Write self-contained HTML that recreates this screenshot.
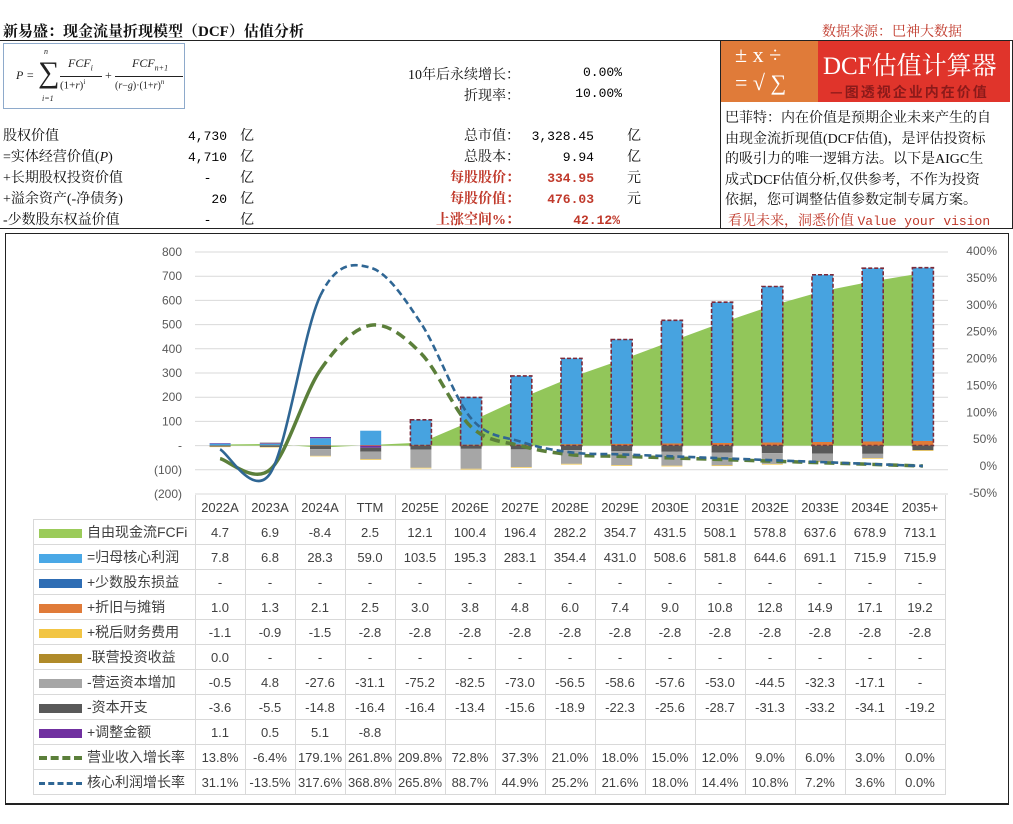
<!DOCTYPE html>
<html><head><meta charset="utf-8">
<style>
body{margin:0;width:1013px;height:824px;background:#fff;position:relative;overflow:hidden;font-family:"Liberation Sans","Noto Sans CJK SC",sans-serif;}
.a{position:absolute;white-space:nowrap;}
.cj{font-family:"Liberation Serif","Noto Serif CJK SC",serif;font-size:14px;color:#111;}
.m{font-family:"Liberation Mono","Noto Serif CJK SC",monospace;font-size:13px;}
.r{text-align:right;}
.red{color:#c0392b;font-weight:bold;}
table{border-collapse:collapse;}
td{border:1px solid #d9d9d9;height:24px;padding:0;font-size:13px;color:#404040;text-align:center;}
</style></head><body>
<div class="a cj" style="left:3px;top:20px;font-weight:bold;font-size:15px;">新易盛：现金流量折现模型（DCF）估值分析</div>
<div class="a cj" style="left:822px;top:21px;color:#c0392b;">数据来源：巴神大数据</div>
<div class="a" style="left:0;top:40px;width:1013px;height:1px;background:#222;"></div>
<div class="a" style="left:0;top:228px;width:1013px;height:1px;background:#222;"></div>
<div class="a" style="left:3px;top:43px;width:180px;height:64px;border:1px solid #8eaacb;font-family:'Liberation Serif',serif;font-style:italic;font-size:12px;color:#222;">
<span class="a" style="left:12px;top:24px;">P =</span>
<span class="a" style="left:34px;top:12px;font-size:30px;font-style:normal;">∑</span>
<span class="a" style="left:40px;top:3px;font-size:8px;">n</span><span class="a" style="left:38px;top:50px;font-size:8px;">i=1</span>
<span class="a" style="left:64px;top:12px;">FCF<sub style="font-size:8px">i</sub></span>
<span class="a" style="left:56px;top:32px;width:42px;border-top:1px solid #222;padding-top:1px;font-style:normal;font-size:11px;">(1+<i>r</i>)<sup style="font-size:7px">i</sup></span>
<span class="a" style="left:101px;top:24px;font-style:normal;">+</span>
<span class="a" style="left:128px;top:12px;">FCF<sub style="font-size:8px">n+1</sub></span>
<span class="a" style="left:111px;top:32px;width:68px;border-top:1px solid #222;padding-top:1px;font-style:normal;font-size:10px;">(<i>r</i>−<i>g</i>)·(1+<i>r</i>)<sup style="font-size:7px"><i>n</i></sup></span>
</div>
<div class="a cj r" style="left:380px;top:64px;width:140px;">10年后永续增长：</div>
<div class="a m r" style="left:540px;top:65px;width:82px;">0.00%</div>
<div class="a cj r" style="left:380px;top:85px;width:140px;">折现率：</div>
<div class="a m r" style="left:540px;top:86px;width:82px;">10.00%</div>

<div class="a cj" style="left:3px;top:126px;line-height:21px;">股权价值<br>=实体经营价值(<i>P</i>)<br>+长期股权投资价值<br>+溢余资产(-净债务)<br>-少数股东权益价值</div>
<div class="a m r" style="left:150px;top:126px;width:77px;line-height:21px;">4,730<br>4,710<br>-&nbsp;&nbsp;<br>20<br>-&nbsp;&nbsp;</div>
<div class="a cj" style="left:240px;top:126px;line-height:21px;">亿<br>亿<br>亿<br>亿<br>亿</div>
<div class="a cj r" style="left:380px;top:126px;width:140px;line-height:21px;">总市值：<br>总股本：<br><span class="red">每股股价：</span><br><span class="red">每股价值：</span><br><span class="red">上涨空间%：</span></div>
<div class="a m r" style="left:520px;top:126px;width:74px;line-height:21px;">3,328.45<br>9.94<br><span class="red">334.95</span><br><span class="red">476.03</span><br><span class="red" style="margin-right:-26px">42.12%</span></div>
<div class="a cj" style="left:627px;top:126px;line-height:21px;">亿<br>亿<br>元<br>元</div>

<div class="a" style="left:720px;top:40px;width:291px;height:188px;border:1px solid #222;border-top:none;"></div>
<div class="a" style="left:721px;top:41px;width:97px;height:61px;background:#e07b39;color:#fff;font-family:'Liberation Serif',serif;font-size:22px;line-height:28px;padding-left:14px;box-sizing:border-box;">± x ÷<br>= √ ∑</div>
<div class="a" style="left:818px;top:41px;width:192px;height:61px;background:#e0342b;"></div>
<div class="a" style="left:823px;top:46px;color:#fff;font-size:25px;font-family:'Liberation Serif','Noto Serif CJK SC',serif;">DCF估值计算器</div>
<div class="a" style="left:830px;top:82px;color:#8b1a1a;font-size:14px;font-weight:bold;letter-spacing:2px;font-family:'Noto Sans CJK SC',sans-serif;">—图透视企业内在价值</div>
<div class="a cj" style="left:725px;top:109px;line-height:20.5px;font-size:14px;">巴菲特：内在价值是预期企业未来产生的自<br>由现金流折现值(DCF估值)，是评估投资标<br>的吸引力的唯一逻辑方法。以下是AIGC生<br>成式DCF估值分析,仅供参考，不作为投资<br>依据，您可调整估值参数定制专属方案。</div>
<div class="a cj" style="left:728px;top:210px;color:#c0392b;font-size:14px;">看见未来，洞悉价值 <span style="font-family:'Liberation Mono',monospace;font-size:13px;">Value your vision</span></div>

<div class="a" style="left:5px;top:233px;width:1002px;height:569px;border:1px solid #222;border-bottom:2px solid #222;"></div>
<svg class="a" id="chart" style="left:0;top:0" width="1013" height="824"></svg>
<table class="a" id="tbl" style="left:33px;top:495px;"></table>

<script>
const categories=["2022A","2023A","2024A","TTM","2025E","2026E","2027E","2028E","2029E","2030E","2031E","2032E","2033E","2034E","2035+"];
const fcf=[4.7,6.9,-8.4,2.5,12.1,100.4,196.4,282.2,354.7,431.5,508.1,578.8,637.6,678.9,713.1];
const coreProfit=[7.8,6.8,28.3,59.0,103.5,195.3,283.1,354.4,431.0,508.6,581.8,644.6,691.1,715.9,715.9];
const minority=[null,null,null,null,null,null,null,null,null,null,null,null,null,null,null];
const dep=[1.0,1.3,2.1,2.5,3.0,3.8,4.8,6.0,7.4,9.0,10.8,12.8,14.9,17.1,19.2];
const finExp=[-1.1,-0.9,-1.5,-2.8,-2.8,-2.8,-2.8,-2.8,-2.8,-2.8,-2.8,-2.8,-2.8,-2.8,-2.8];
const invInc=[0.0,null,null,null,null,null,null,null,null,null,null,null,null,null,null];
const wc=[-0.5,4.8,-27.6,-31.1,-75.2,-82.5,-73.0,-56.5,-58.6,-57.6,-53.0,-44.5,-32.3,-17.1,null];
const capex=[-3.6,-5.5,-14.8,-16.4,-16.4,-13.4,-15.6,-18.9,-22.3,-25.6,-28.7,-31.3,-33.2,-34.1,-19.2];
const adj=[1.1,0.5,5.1,-8.8,null,null,null,null,null,null,null,null,null,null,null];
const revGrowth=[13.8,-6.4,179.1,261.8,209.8,72.8,37.3,21.0,18.0,15.0,12.0,9.0,6.0,3.0,0.0];
const profitGrowth=[31.1,-13.5,317.6,368.8,265.8,88.7,44.9,25.2,21.6,18.0,14.4,10.8,7.2,3.6,0.0];
const leftTicks=[800,700,600,500,400,300,200,100,0,-100,-200];
const rightTicks=[400,350,300,250,200,150,100,50,0,-50];

const X0=195,CW=50.2,NS="http://www.w3.org/2000/svg";
const cx=i=>X0+CW*(i+0.5);
const yL=v=>445.6-v*0.242;
const yR=v=>466-v*0.5375;
const svg=document.getElementById('chart');
function mk(t,a,p){const e=document.createElementNS(NS,t);for(const k in a)e.setAttribute(k,a[k]);(p||svg).appendChild(e);return e;}

leftTicks.forEach(v=>{
 const g=mk('line',{x1:X0,x2:948,y1:yL(v),y2:yL(v),stroke:'#d9d9d9','stroke-width':1});
 
 
 const t=mk('text',{x:182,y:yL(v)+4,'text-anchor':'end','font-size':12,fill:'#595959','font-family':'Liberation Sans,sans-serif'});
 t.textContent=v===0?'-':(v<0?'('+(-v)+')':String(v));
 
 
});
rightTicks.forEach(v=>{
 const t=mk('text',{x:997,y:yR(v)+4,'text-anchor':'end','font-size':12,fill:'#595959','font-family':'Liberation Sans,sans-serif'});
 t.textContent=v+'%';
 
 
});

let d='M'+cx(0)+','+yL(0);
fcf.forEach((v,i)=>{d+=' L'+cx(i)+','+yL(v);});
d+=' L'+cx(fcf.length-1)+','+yL(0)+' Z';
const area=mk('path',{d:d,fill:'#92c65a'});



const BW=21;
categories.forEach((c,i)=>{
 let pos=0,neg=0;
 const stack=[[dep,'#e07b39','bar-depreciation'],[coreProfit,'#47a3e0','bar-core-profit'],[minority,'#2e6db4','bar-minority'],[adj,'#7030a0','bar-adjustment'],[capex,'#595959','bar-capex'],[wc,'#a6a6a6','bar-working-capital'],[invInc,'#b08b2a','bar-investment-income'],[finExp,'#f2c544','bar-finance-expense']];
 stack.forEach(([arr,col,name])=>{
  const v=arr[i]; if(v==null||v===0) return;
  let y1,y2;
  if(v>0){y1=yL(pos+v);y2=yL(pos);pos+=v;}else{y1=yL(neg);y2=yL(neg+v);neg+=v;}
  const r=mk('rect',{x:cx(i)-BW/2,y:y1,width:BW,height:Math.max(0.5,y2-y1),fill:col});
  
  
  if(name==='bar-core-profit'&&i>=4){
   const b=mk('rect',{x:cx(i)-BW/2,y:yL(pos),width:BW,height:yL(0)-yL(pos),fill:'none',stroke:'#7b2a3a','stroke-width':1.6,'stroke-dasharray':'4 2'});
   
   
  }
 });
});

function seg(pts,i){
 const p0=pts[Math.max(0,i-1)],p1=pts[i],p2=pts[i+1],p3=pts[Math.min(pts.length-1,i+2)];
 const c1=[p1[0]+(p2[0]-p0[0])/6,p1[1]+(p2[1]-p0[1])/6],c2=[p2[0]-(p3[0]-p1[0])/6,p2[1]-(p3[1]-p1[1])/6];
 return ' C'+c1[0]+','+c1[1]+' '+c2[0]+','+c2[1]+' '+p2[0]+','+p2[1];
}
function line(vals,col,w,dash,name){
 const pts=vals.map((v,i)=>[cx(i),yR(v)]);
 let s='M'+pts[0][0]+','+pts[0][1];for(let i=0;i<2;i++)s+=seg(pts,i);
 let ds='M'+pts[2][0]+','+pts[2][1];for(let i=2;i<pts.length-1;i++)ds+=seg(pts,i);
 const a=mk('path',{d:s,fill:'none',stroke:col,'stroke-width':w});
 
 
 const b=mk('path',{d:ds,fill:'none',stroke:col,'stroke-width':w,'stroke-dasharray':dash});
 
 
}
line(revGrowth,'#5b7f3a',3.5,'10 6','revenue-growth-line');
line(profitGrowth,'#2f6694',2.6,'7 4','profit-growth-line');

const tbl=document.getElementById('tbl');
const rows=[
 ['自由现金流FCFi','#9bcb5a','bar',fcf,1],
 ['=归母核心利润','#4aa8e6','bar',coreProfit,1],
 ['+少数股东损益','#2e6db4','bar',minority,1],
 ['+折旧与摊销','#e07b39','bar',dep,1],
 ['+税后财务费用','#f2c544','bar',finExp,1],
 ['-联营投资收益','#b08b2a','bar',invInc,1],
 ['-营运资本增加','#a6a6a6','bar',wc,1],
 ['-资本开支','#595959','bar',capex,1],
 ['+调整金额','#7030a0','bar',adj,1],
 ['营业收入增长率','#5b7f3a','dash',revGrowth,2],
 ['核心利润增长率','#2f6694','dash2',profitGrowth,2]];
let h='<tr style="height:23px"><td style="border:none;border-bottom:1px solid #d9d9d9;width:161px"></td>';
categories.forEach(c=>{h+='<td style="width:49px;border-top:none">'+c+'</td>';});
h+='</tr>';
rows.forEach(r=>{
 let sw=r[2]==='bar'?'<span style="display:inline-block;width:43px;height:9px;background:'+r[1]+';vertical-align:middle;margin:0 5px 0 5px"></span>':
  '<span style="display:inline-block;width:43px;height:0;border-top:'+(r[2]==='dash'?4:3)+'px dashed '+r[1]+';vertical-align:middle;margin:0 5px 0 5px"></span>';
 h+='<tr><td style="text-align:left;font-size:14px;font-family:\'Liberation Sans\',\'Noto Sans CJK SC\',sans-serif">'+sw+r[0]+'</td>';
 r[3].forEach((v,i)=>{
  let t;
  if(r[4]===2)t=v.toFixed(1)+'%';
  else if(v==null)t=(r[0]==='+调整金额'&&i>=4)?'':'-';
  else t=v.toFixed(1);
  h+='<td>'+t+'</td>';
 });
 h+='</tr>';
});
tbl.innerHTML=h;
</script>
</body></html>
